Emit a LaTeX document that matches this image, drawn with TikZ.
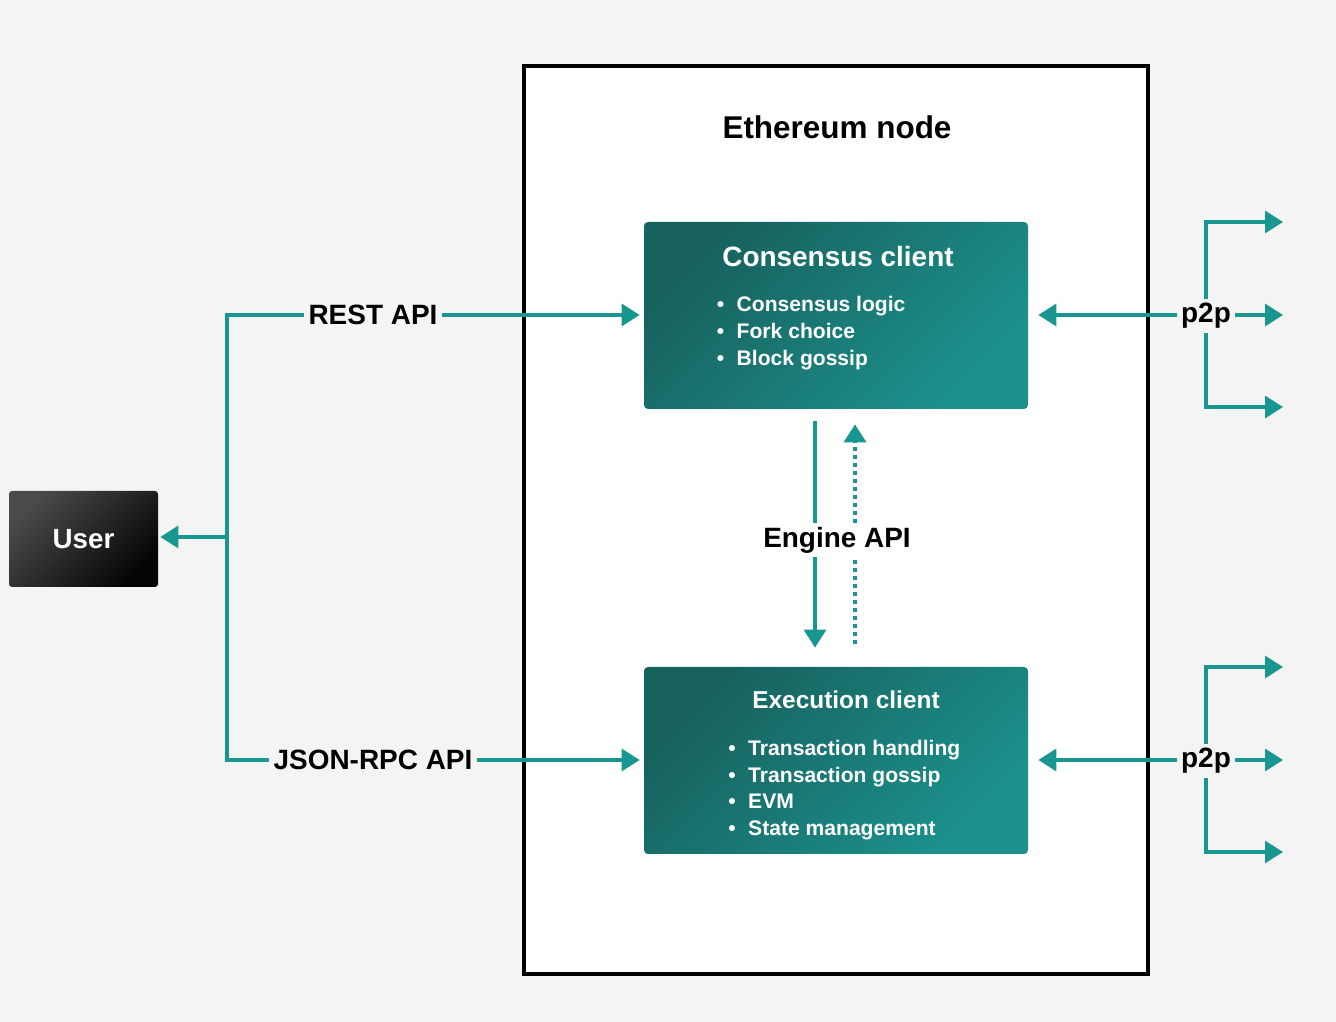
\documentclass[tikz,border=0pt]{standalone}
\usepackage{fontspec}
\setmainfont{Liberation Sans}
\usetikzlibrary{arrows.meta}
\definecolor{bgcol}{HTML}{F4F4F4}
\definecolor{linkteal}{RGB}{24,150,144}
\definecolor{clientdark}{RGB}{23,97,94}
\definecolor{clientlight}{RGB}{28,145,140}
\definecolor{userlight}{RGB}{74,74,74}
\definecolor{userdark}{RGB}{5,5,5}

\begin{document}
\begin{tikzpicture} [scale = 1,
  tealline/.style = {draw=linkteal, line width=0.065cm},
  tealarrow/.style = {tealline, -{Triangle[length=0.36cm, width=0.44cm]}},
  tealdots/.style = {tealline, dash pattern=on 0.08cm off 0.08cm},
  apilabel/.style = {black, inner sep=0.08cm, font=\fontsize{15.9}{19}\selectfont\bfseries},
  clientbox/.style = {rounded corners=0.08cm, minimum width=7.68cm, minimum height=3.74cm,
    top color=clientdark, bottom color=clientlight, shading angle=45},
  bulletlist/.style = {white, anchor=west, inner sep=0, align=left},
]
\fill[bgcol] (0, 0) rectangle (26.72, 20.44);
% node frame
\node[draw=black, line width=0.07cm, fill=white, minimum width=12.48cm, minimum height=18.16cm, inner sep=0] (ethnode) at (16.72, 10.04){};
\node[apilabel, font=\fontsize{17.9}{21}\selectfont\bfseries] (ethtitle) at (16.74, 17.90){Ethereum node};
% clients
\node[clientbox] (consensus) at (16.72, 14.13){};
\node[white, font=\fontsize{15.9}{19}\selectfont\bfseries] (constitle) at (16.76, 15.30){Consensus client};
\node[bulletlist, font=\fontsize{12}{15.3}\selectfont\bfseries] (conslist) at (14.33, 13.78){\textbullet\hspace{0.25cm}Consensus logic\\ \textbullet\hspace{0.25cm}Fork choice\\ \textbullet\hspace{0.25cm}Block gossip};
\node[clientbox] (execution) at (16.72, 5.23){};
\node[white, font=\fontsize{13.9}{17}\selectfont\bfseries] (exectitle) at (16.92, 6.44){Execution client};
\node[bulletlist, font=\fontsize{12}{15.1}\selectfont\bfseries] (execlist) at (14.56, 4.64){\textbullet\hspace{0.25cm}Transaction handling\\ \textbullet\hspace{0.25cm}Transaction gossip\\ \textbullet\hspace{0.25cm}EVM\\ \textbullet\hspace{0.25cm}State management};
% user
\node[rounded corners=0.06cm, minimum width=2.98cm, minimum height=1.92cm, top color=userlight, bottom color=userdark, shading angle=45, white, font=\fontsize{15.8}{19}\selectfont\bfseries] (user) at (1.67, 9.66){User};
% labels
\node[apilabel] (restapi) at (7.46, 14.14){REST API};
\node[apilabel] (jsonapi) at (7.46, 5.24){JSON-RPC API};
\node[apilabel] (engineapi) at (16.74, 9.64){Engine API};
\node[apilabel] (p2pcons) at (24.12, 14.12){p2p};
\node[apilabel] (p2pexec) at (24.12, 5.22){p2p};
% user side
\coordinate (lbus) at (4.54, 9.70);
\draw[tealline] (restapi.west) -| (lbus) |- (jsonapi.west);
\draw[tealarrow, shorten >=0.04cm] (lbus) -- (lbus -| user.east);
\draw[tealarrow, shorten >=0.08cm] (restapi.east) -- (consensus.west |- restapi.east);
\draw[tealarrow, shorten >=0.08cm] (jsonapi.east) -- (execution.west |- jsonapi.east);
% engine api
\coordinate (reqtop) at ([xshift=-0.42cm, yshift=-0.24cm]consensus.south);
\coordinate (reqbot) at ([xshift=-0.42cm, yshift=0.38cm]execution.north);
\coordinate (restop) at ([xshift=0.38cm, yshift=-0.30cm]consensus.south);
\coordinate (resbot) at ([xshift=0.38cm, yshift=0.46cm]execution.north);
\draw[tealline] (reqtop) -- (reqtop |- engineapi.north);
\draw[tealarrow] (reqbot |- engineapi.south) -- (reqbot);
\draw[tealdots] (resbot) -- (resbot |- engineapi.south);
\draw[tealdots, -{Triangle[length=0.36cm, width=0.44cm]}] (restop |- engineapi.north) -- (restop);
% p2p
\coordinate (cp1) at (25.66, 16.00);
\coordinate (cp2) at (25.66, 14.14);
\coordinate (cp3) at (25.66, 12.30);
\coordinate (cp4) at (25.66, 7.10);
\coordinate (cp5) at (25.66, 5.24);
\coordinate (cp6) at (25.66, 3.40);
\draw[tealarrow, shorten >=0.2cm] (p2pcons.west |- cp2) -- (consensus.east |- cp2);
\draw[tealarrow] (p2pcons.north) |- (cp1);
\draw[tealarrow] (p2pcons.east |- cp2) -- (cp2);
\draw[tealarrow] (p2pcons.south) |- (cp3);
\draw[tealarrow, shorten >=0.2cm] (p2pexec.west |- cp5) -- (execution.east |- cp5);
\draw[tealarrow] (p2pexec.north) |- (cp4);
\draw[tealarrow] (p2pexec.east |- cp5) -- (cp5);
\draw[tealarrow] (p2pexec.south) |- (cp6);
\end{tikzpicture}
\end{document}
